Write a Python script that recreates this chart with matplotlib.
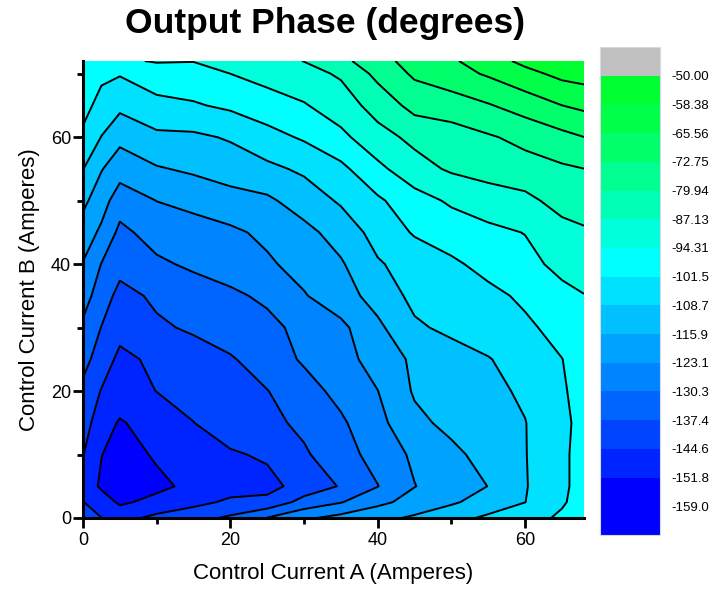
import numpy as np
import matplotlib
matplotlib.use("Agg")
import matplotlib.pyplot as plt
from matplotlib.colors import ListedColormap, BoundaryNorm
from matplotlib.cm import ScalarMappable
from matplotlib.ticker import MultipleLocator

plt.rcParams['font.family'] = ['Liberation Sans', 'DejaVu Sans']

# ---- data ----
current_a = [0, 2.5, 5, 10, 15, 20, 25, 30, 35, 40, 45, 50, 55, 60, 65, 68]
current_b = [0, 2.5, 5, 10, 15, 20, 25, 30, 35, 40, 45, 50, 55, 60, 65, 70, 72]

phase_b00 = [-142, -144.5, -147, -142.8, -139.8, -136.2, -130.0, -124.3, -120.8, -117.9, -114.8, -111.1, -107.4, -103.9, -100.5, -99.5]
phase_b02 = [-144.4, -148, -153, -149.7, -146.7, -143.3, -142.5, -134.9, -130.7, -124.9, -120.5, -116.9, -112.8, -108.8, -102.2, -99]
phase_b05 = [-147, -153, -159, -153.5, -150, -147.7, -147, -141.6, -136.9, -130.5, -123.3, -119.5, -115.8, -109.2, -102.8, -99]
phase_b10 = [-144.3, -151.6, -155, -150.9, -148.5, -145.5, -143.5, -138.3, -133.3, -127.6, -121.8, -117.6, -113.3, -109, -102.8, -99]
phase_b15 = [-141.5, -148.5, -152.5, -148.5, -144.7, -140.5, -139.2, -135.9, -131.4, -125.2, -117.7, -114, -111.4, -108.9, -103.4, -99]
phase_b20 = [-139, -145, -147.5, -144.5, -142.2, -139.9, -137.6, -133.1, -128.2, -123.2, -115.1, -112.8, -110.5, -107.6, -102.3, -99]
phase_b25 = [-135.2, -140.5, -146.5, -143, -140.6, -138.1, -134, -129.4, -125.6, -120.4, -114.5, -111.8, -109.1, -105.4, -101.6, -99]
phase_b30 = [-131.5, -137.6, -142, -138.5, -136.4, -133.8, -132.5, -127.9, -124.8, -117.4, -109.8, -107.1, -104.9, -102.6, -99.5, -97.5]
phase_b35 = [-127.6, -133.5, -139.8, -136.1, -133.8, -131.8, -128.8, -123.6, -119, -113.1, -106.8, -105.3, -103.1, -100.4, -96.3, -94.5]
phase_b40 = [-123.5, -130.5, -134.8, -131.5, -129.1, -126.6, -124.1, -120.6, -116.7, -109.4, -105.8, -102.6, -99.5, -96.5, -92.3, -91.5]
phase_b45 = [-119.1, -124.5, -132, -127.5, -126.6, -124.4, -121.6, -118, -112.9, -106.1, -100.8, -98.4, -96, -94.1, -89.6, -88.5]
phase_b50 = [-114.2, -120, -127, -123, -120.7, -118.7, -117.2, -112.5, -107.8, -102.6, -97.3, -93.2, -90.6, -89, -84.5, -82]
phase_b55 = [-108.5, -115.5, -120, -116.5, -114.8, -112.5, -110.3, -107.5, -103.2, -96.1, -89.7, -86.2, -84.4, -82.7, -81, -80]
phase_b60 = [-103, -108.9, -114, -110.5, -110, -108, -104, -100.6, -96.1, -89.5, -85.5, -83.2, -80.7, -78, -74.8, -72.8]
phase_b65 = [-99, -104, -107, -102.5, -102.2, -100.2, -97.5, -94.9, -90.4, -84.5, -77.5, -76.3, -73.3, -69.6, -65.6, -64]
phase_b70 = [-97, -100, -101, -99.5, -97, -94.3, -91.8, -89.3, -86.3, -78, -71.6, -68.3, -64.7, -60.5, -56.5, -55.5]
phase_b72 = [-97, -98, -96, -93.5, -94.1, -91.8, -89.4, -87, -82.1, -75.1, -70.2, -66.6, -61.6, -56.6, -53.5, -52]

level_values = [-159.0, -151.8, -144.6, -137.4, -130.3, -123.1, -115.9, -108.7,
                -101.5, -94.31, -87.13, -79.94, -72.75, -65.56, -58.38, -50.00]
level_labels = ["-159.0", "-151.8", "-144.6", "-137.4", "-130.3", "-123.1", "-115.9", "-108.7",
                "-101.5", "-94.31", "-87.13", "-79.94", "-72.75", "-65.56", "-58.38", "-50.00"]

# fill colours, from the lowest band (below -151.8) upward, gray above -50
band_colors = ['#0000FF', '#0024FF', '#0044FF', '#0064FF', '#0084FF', '#00A2FF',
               '#00C0FF', '#00E0FF', '#00FFFF', '#00FFDA', '#00FFB5', '#00FF90',
               '#00FF6B', '#00FF48', '#00FF30', '#C0C0C0']

xa = np.array(current_a)
yb = np.array(current_b)
Z = np.array([phase_b00, phase_b02, phase_b05, phase_b10, phase_b15, phase_b20,
              phase_b25, phase_b30, phase_b35, phase_b40, phase_b45, phase_b50,
              phase_b55, phase_b60, phase_b65, phase_b70, phase_b72])
X, Y = np.meshgrid(xa, yb)

fig = plt.figure(figsize=(7.11, 5.92), dpi=100)
ax = fig.add_axes([83/711, 1-518/592, (584-83)/711, (518-61)/592])

fill_levels = [-200] + level_values[1:] + [0]
ax.contourf(X, Y, Z, levels=fill_levels, colors=band_colors, antialiased=True)
ax.contour(X, Y, Z, levels=level_values[1:-1], colors='k', linewidths=1.4,
           linestyles='solid')

ax.set_xlim(0, 68)
ax.set_ylim(0, 72)
for s in ['top', 'right']:
    ax.spines[s].set_visible(False)
for s in ['left', 'bottom']:
    ax.spines[s].set_linewidth(2.2)
ax.xaxis.set_major_locator(MultipleLocator(20))
ax.xaxis.set_minor_locator(MultipleLocator(10))
ax.yaxis.set_major_locator(MultipleLocator(20))
ax.yaxis.set_minor_locator(MultipleLocator(10))
ax.tick_params(which='major', direction='out', length=7.2, width=2, labelsize=13)
ax.tick_params(which='minor', direction='out', length=4.3, width=2)
ax.tick_params(axis='y', which='major', pad=1.5)
ax.tick_params(axis='x', which='major', pad=3)
ax.set_xlabel("Control Current A (Amperes)", fontsize=16, labelpad=10)
ax.set_ylabel("Control Current B (Amperes)", fontsize=16, labelpad=8)

fig.text(325/711, 1-23/592, "Output Phase (degrees)", fontsize=25.5, fontweight='bold',
         ha='center', va='center')

# colour scale
cax = fig.add_axes([600/711, 1-535/592, 60/711, 488/592])
cb_bounds = [-166.2] + level_values + [-42.8]
cb_colors = [band_colors[0]] + band_colors
sm = ScalarMappable(norm=BoundaryNorm(cb_bounds, len(cb_colors)), cmap=ListedColormap(cb_colors))
cb = fig.colorbar(sm, cax=cax, boundaries=cb_bounds, spacing='uniform', ticks=level_values)
cb.set_ticklabels(level_labels)
cb.outline.set_edgecolor('#d8d8e8')
cb.outline.set_linewidth(0.8)
cax.minorticks_off()
cax.tick_params(which='both', length=0, pad=8, labelsize=9.5)

fig.savefig("out.png", dpi=100)
